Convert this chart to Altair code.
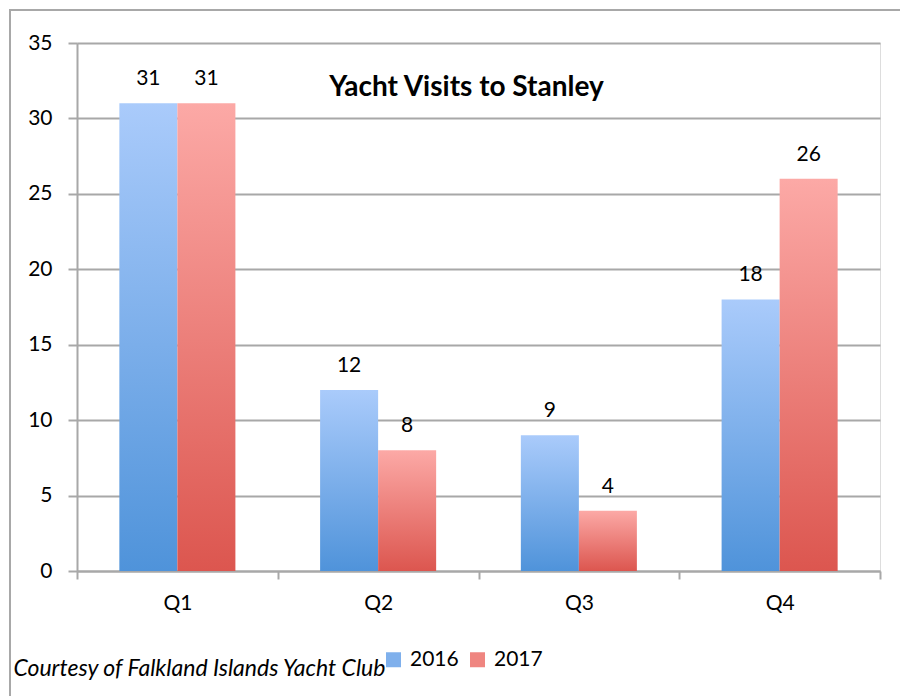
import altair as alt
import pandas as pd

quarters = ["Q1", "Q2", "Q3", "Q4"]
years = ["2016", "2017"]
visits_2016 = [31, 12, 9, 18]
visits_2017 = [31, 8, 4, 26]
y_ticks = [0, 5, 10, 15, 20, 25, 30, 35]

rows = []
for q, a, b in zip(quarters, visits_2016, visits_2017):
    rows.append({"quarter": q, "year": "2016", "visits": a})
    rows.append({"quarter": q, "year": "2017", "visits": b})
df = pd.DataFrame(rows)

FONT = "Lato"
GRID = "#a8a8a8"
BLUE_TOP, BLUE_BOT = "#aacbfb", "#4f93da"
RED_TOP, RED_BOT = "#fca9a6", "#dc564f"


def grad(top, bot):
    return alt.Gradient(
        gradient="linear", x1=0, y1=0, x2=0, y2=1,
        stops=[alt.GradientStop(offset=0, color=top), alt.GradientStop(offset=1, color=bot)],
    )


x_enc = alt.X(
    "quarter:N", sort=quarters,
    scale=alt.Scale(paddingInner=0, paddingOuter=0),
    axis=alt.Axis(
        labelAngle=0, tickBand="extent", tickSize=8, tickWidth=2, tickColor=GRID,
        domainColor=GRID, domainWidth=2, labelFont=FONT, labelFontSize=21,
        labelColor="black", labelPadding=13, grid=False,
        title="Courtesy of Falkland Islands Yacht Club",
        titleX=-64, titleY=104, titleAlign="left", titleAnchor="start",
        titleBaseline="alphabetic", titleFont=FONT, titleFontSize=23,
        titleFontStyle="italic", titleFontWeight="normal", titleColor="black",
    ),
)
xo_enc = alt.XOffset(
    "year:N", sort=years,
    scale=alt.Scale(domain=years, paddingInner=0, paddingOuter=0.73),
)
y_enc = alt.Y(
    "visits:Q",
    scale=alt.Scale(domain=[0, 35], nice=False),
    axis=alt.Axis(
        values=y_ticks, title=None, tickSize=9, tickWidth=2, tickColor=GRID,
        domainColor=GRID, domainWidth=2, gridColor=GRID, gridWidth=2,
        labelFont=FONT, labelFontSize=21, labelColor="black", labelPadding=16,
    ),
)

base = alt.Chart(df)

bars16 = base.transform_filter("datum.year == '2016'").mark_bar(
    color=grad(BLUE_TOP, BLUE_BOT)
).encode(x=x_enc, xOffset=xo_enc, y=y_enc)

bars17 = base.transform_filter("datum.year == '2017'").mark_bar(
    color=grad(RED_TOP, RED_BOT)
).encode(x=x_enc, xOffset=xo_enc, y=y_enc)

legend_layer = base.mark_bar(opacity=0).encode(
    x=x_enc, xOffset=xo_enc, y=y_enc,
    color=alt.Color(
        "year:N", sort=years,
        scale=alt.Scale(domain=years, range=["#7fb0ec", "#ef8580"]),
        legend=alt.Legend(
            title=None, orient="none", legendX=306, legendY=606,
            direction="horizontal", symbolType="square", symbolSize=225,
            symbolOpacity=1, symbolStrokeWidth=0, labelFont=FONT,
            labelFontSize=21, labelColor="black", labelOffset=6,
            columnPadding=8,
        ),
    ),
)

labels = base.mark_text(
    font=FONT, fontSize=21, color="black", baseline="alphabetic", dy=-18
).encode(x=x_enc, xOffset=xo_enc, y=y_enc, text="visits:Q")

border = base.mark_rect(
    fill=None, stroke=GRID, strokeWidth=2
).encode(
    x=alt.value(-67), y=alt.value(-33), x2=alt.value(900), y2=alt.value(700)
)

chart = alt.layer(border, legend_layer, bars16, bars17, labels).properties(
    width=803, height=528,
    autosize=alt.AutoSizeParams(type="none"),
    padding={"left": 77, "top": 43, "right": 20, "bottom": 125},
    title=alt.TitleParams(
        "Yacht Visits to Stanley", font=FONT, fontSize=28, fontWeight="bold",
        color="black", anchor="middle", frame="group", offset=-93, dx=-12,
    ),
).configure_view(stroke=None).configure(background="white")

chart.save("out.html", embed_options={"renderer": "svg", "actions": False})
